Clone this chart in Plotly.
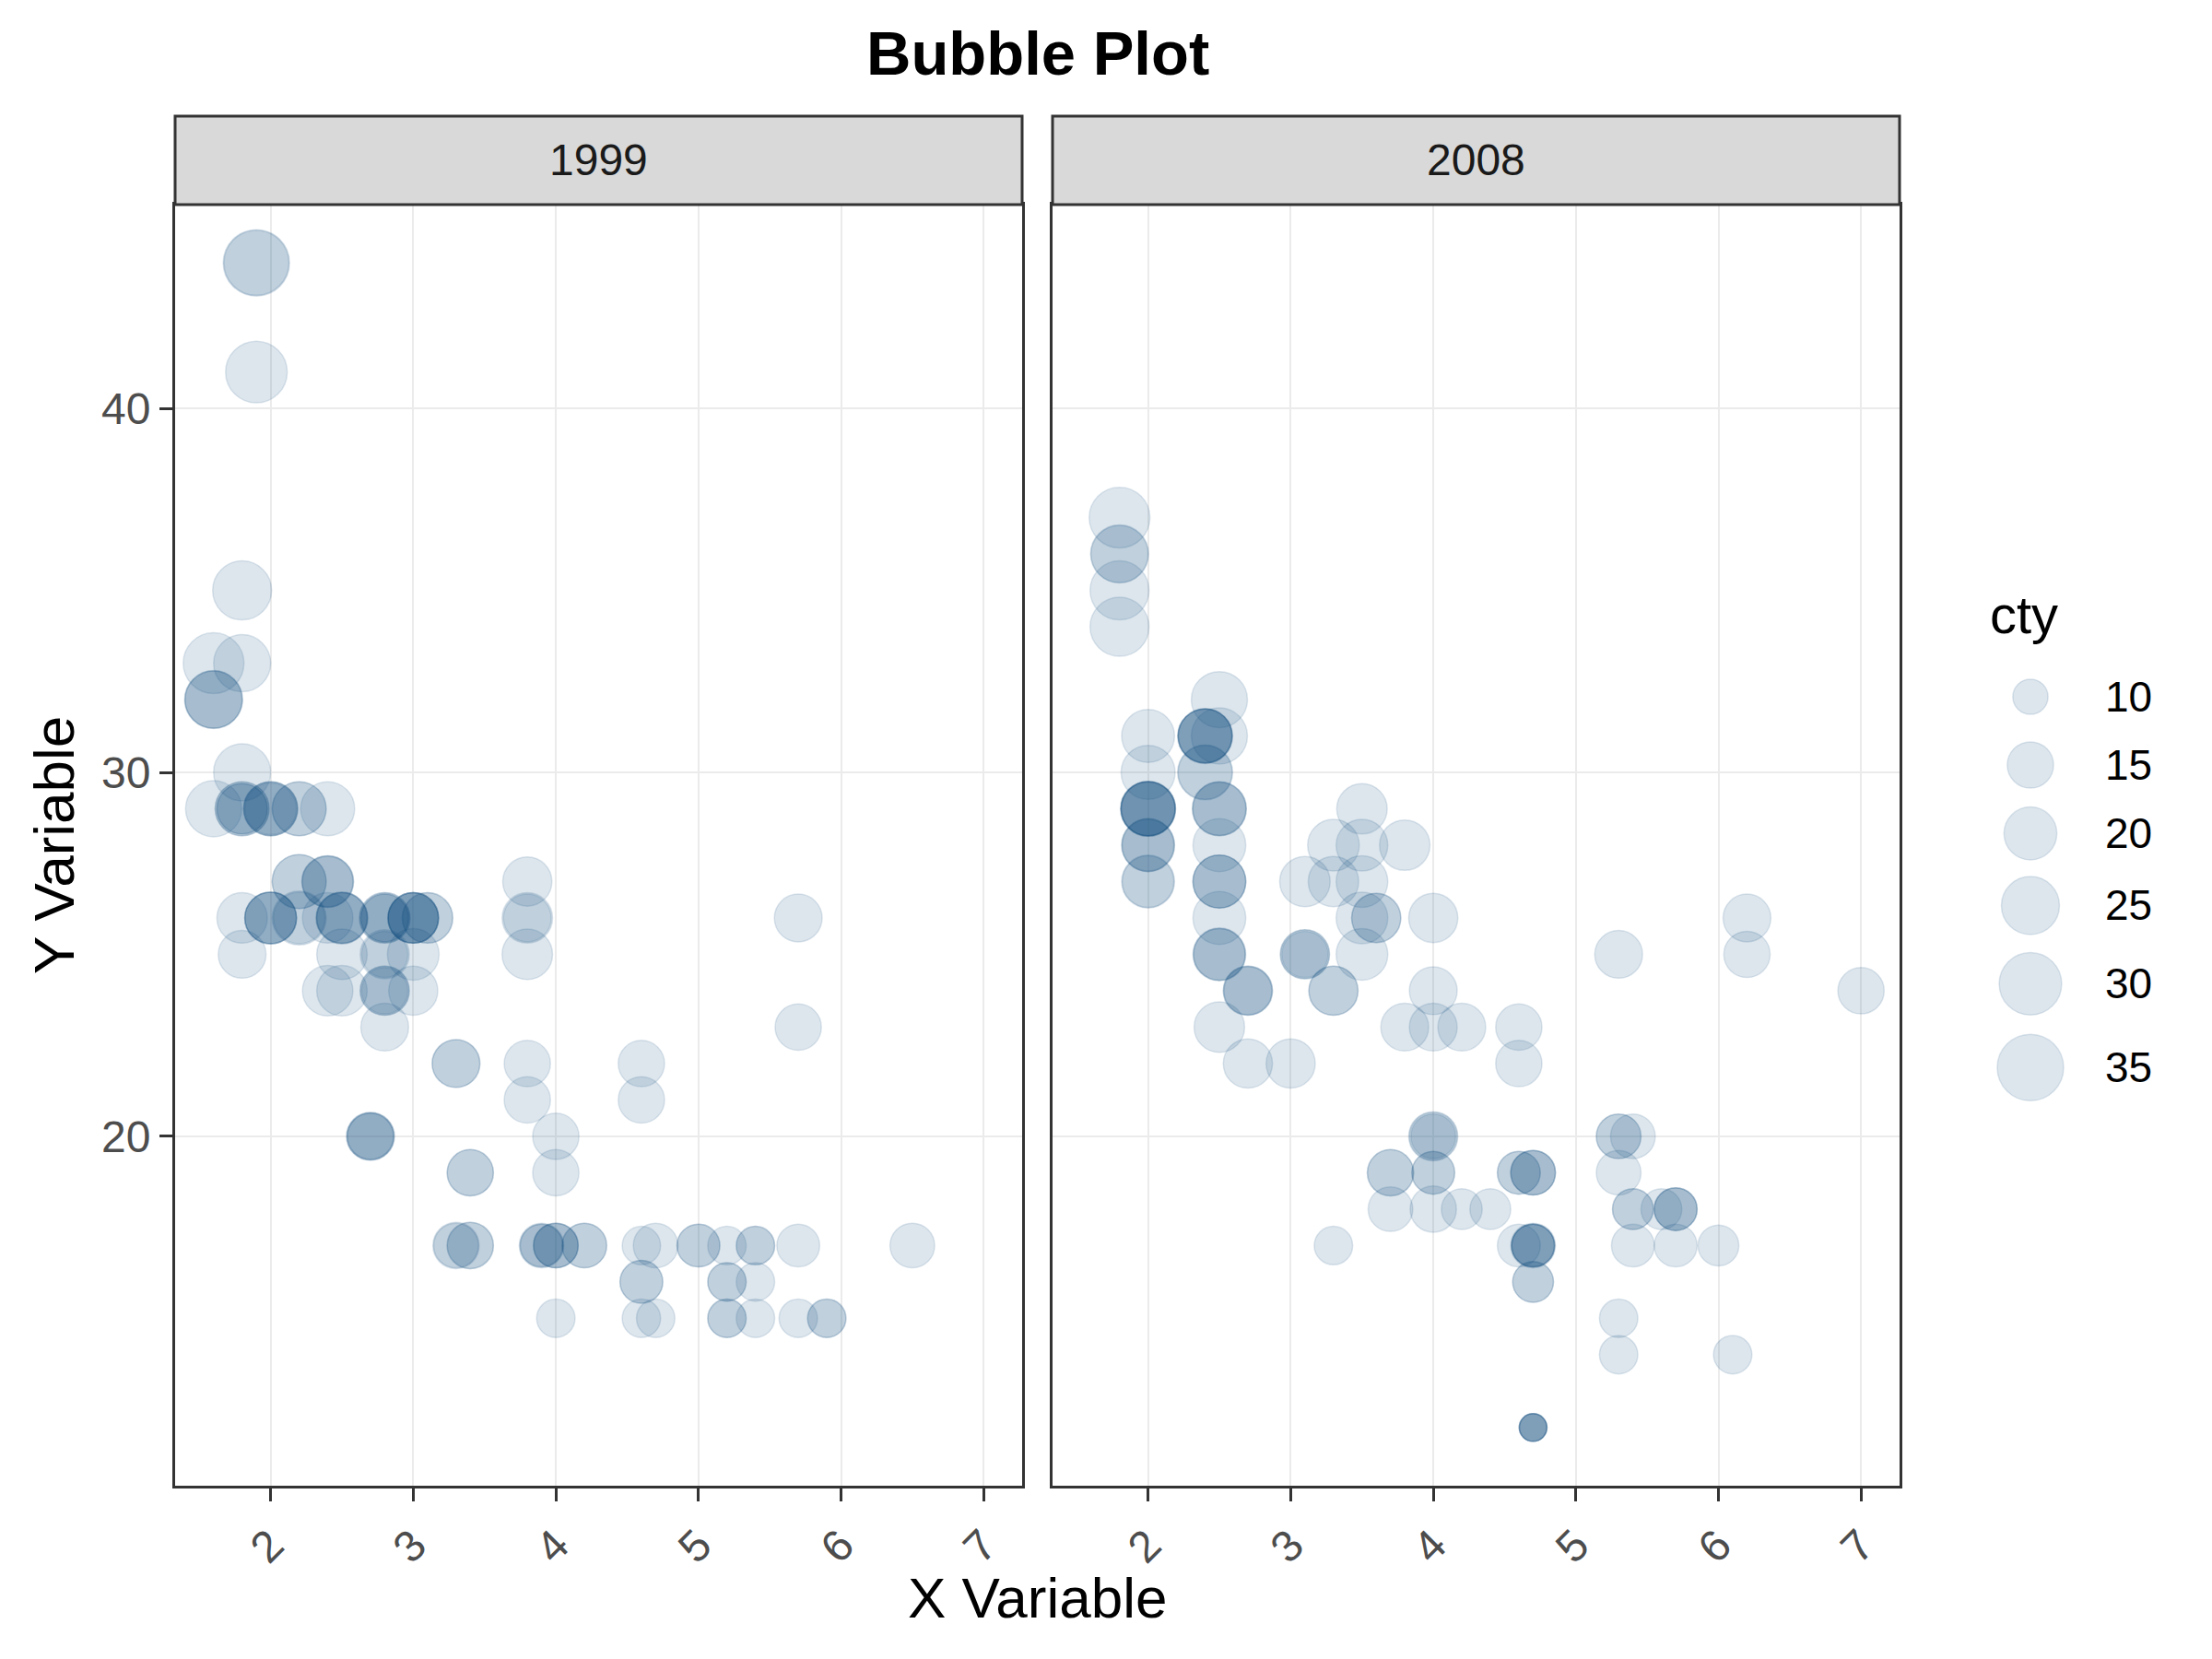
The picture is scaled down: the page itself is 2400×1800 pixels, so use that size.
import math
import plotly.graph_objects as go

# mpg-style data: engine displacement (x), highway mpg (y), city mpg (size)
displ_1999 = [1.8, 1.8, 2.8, 2.8, 1.8, 1.8, 2.8, 2.8, 2.8,
              5.7, 5.7, 5.7, 5.7, 6.5, 2.4, 3.1,
              2.4, 3.0, 3.3, 3.3, 3.8, 3.8,
              3.9, 3.9, 5.2, 5.2, 3.9, 5.2, 5.9, 5.2, 5.2, 5.9,
              4.6, 5.4, 4.0, 4.0, 4.0, 5.0, 4.2, 4.2, 4.6, 4.6, 5.4,
              3.8, 3.8, 4.6, 4.6,
              1.6, 1.6, 1.6, 1.6, 1.6,
              2.4, 2.4, 2.5, 2.5, 2.0, 2.0,
              4.0, 4.7, 4.0, 4.6, 5.4, 5.4, 4.0, 5.0,
              2.4, 2.4, 3.0, 3.0, 3.3, 3.3,
              3.1, 3.8, 3.8,
              2.5, 2.5, 2.2, 2.2, 2.5, 2.5,
              2.7, 2.7, 3.4, 3.4, 2.2, 2.2, 3.0, 3.0, 2.2, 2.2, 3.0, 3.0,
              1.8, 1.8, 1.8, 4.7, 2.7, 2.7, 3.4, 3.4,
              2.0, 2.0, 2.8, 1.9, 2.0, 2.0, 2.8, 2.8, 1.9, 1.9, 2.0, 2.0,
              1.8, 1.8, 2.8, 2.8]
cty_1999 = [18, 21, 16, 18, 18, 16, 15, 17, 15,
            13, 16, 15, 11, 14, 19, 18,
            18, 17, 16, 16, 15, 15,
            13, 14, 11, 11, 13, 11, 11, 11, 11, 11,
            11, 11, 14, 15, 14, 13, 14, 14, 13, 13, 11,
            18, 18, 15, 15,
            28, 24, 25, 23, 24,
            18, 18, 18, 18, 19, 19,
            15, 14, 11, 11, 11, 11, 14, 13,
            21, 19, 18, 19, 14, 15,
            18, 16, 17,
            18, 18, 21, 19, 19, 19,
            15, 16, 15, 15, 21, 21, 18, 18, 21, 21, 18, 18,
            26, 24, 24, 11, 15, 16, 15, 15,
            21, 19, 17, 33, 21, 19, 16, 17, 35, 29, 21, 19,
            21, 18, 16, 18]
hwy_1999 = [29, 29, 26, 26, 26, 25, 25, 25, 24,
            17, 26, 23, 15, 17, 27, 26,
            24, 24, 22, 22, 22, 21,
            17, 17, 17, 15, 17, 16, 15, 15, 16, 15,
            17, 17, 17, 19, 17, 17, 17, 17, 16, 16, 15,
            26, 25, 21, 22,
            33, 32, 32, 29, 32,
            26, 27, 26, 26, 26, 29,
            20, 17, 15, 15, 17, 16, 17, 17,
            29, 27, 26, 25, 17, 17,
            26, 26, 27,
            25, 24, 26, 26, 26, 26,
            20, 20, 19, 17, 29, 27, 26, 26, 27, 29, 26, 26,
            35, 30, 33, 15, 20, 20, 17, 19,
            29, 26, 24, 44, 29, 26, 23, 24, 44, 41, 29, 26,
            29, 29, 26, 26]

displ_2008 = [2.0, 2.0, 3.1, 2.0, 2.0, 3.1, 3.1, 3.1, 4.2,
              5.3, 5.3, 5.3, 6.0, 6.2, 6.2, 7.0, 5.3, 5.3, 2.4, 3.5, 3.6,
              3.3, 3.3, 3.3, 3.8, 4.0,
              3.7, 3.7, 4.7, 4.7, 4.7, 4.7, 4.7, 4.7, 5.7,
              4.7, 4.7, 4.7, 4.7, 4.7, 4.7, 5.7,
              5.4, 4.0, 4.6, 4.6, 5.4, 4.0, 4.0, 4.6, 4.6, 5.4,
              1.8, 1.8, 1.8, 2.0,
              2.4, 2.4, 3.3, 2.0, 2.0, 2.7, 2.7, 2.7,
              3.0, 3.7, 4.7, 4.7, 5.7, 6.1,
              4.2, 4.4, 5.4, 4.0, 4.6,
              2.5, 2.5, 3.5, 3.5, 3.5, 4.0, 5.6,
              3.8, 5.3,
              2.5, 2.5, 2.5, 2.5, 2.5, 2.5, 2.5, 2.5,
              4.0, 4.7, 2.4, 2.4, 3.5, 2.4, 2.4, 3.3, 1.8, 1.8, 5.7, 2.7, 4.0, 4.0,
              2.0, 2.0, 2.0, 2.0, 2.5, 2.5, 2.5, 2.5, 2.0, 2.0, 3.6]
cty_2008 = [20, 21, 18, 20, 19, 17, 15, 17, 16,
            14, 11, 14, 12, 16, 15, 15, 14, 11, 22, 18, 17,
            17, 17, 11, 16, 16,
            15, 14, 14, 14, 9, 13, 9, 13, 13,
            12, 9, 13, 13, 12, 9, 13,
            12, 13, 13, 13, 13, 17, 16, 15, 15, 14,
            26, 25, 24, 21,
            21, 21, 19, 20, 20, 17, 16, 17,
            17, 15, 9, 14, 13, 11,
            12, 12, 12, 13, 13,
            23, 23, 19, 19, 19, 14, 12,
            18, 16,
            20, 19, 20, 18, 20, 20, 19, 20,
            16, 14, 21, 21, 19, 21, 22, 18, 28, 26, 13, 17, 15, 17,
            21, 22, 22, 21, 21, 21, 20, 20, 19, 21, 17]
hwy_2008 = [31, 30, 27, 28, 27, 25, 25, 25, 23,
            20, 15, 20, 17, 26, 25, 24, 19, 14, 30, 29, 26,
            24, 24, 17, 23, 23,
            19, 18, 19, 19, 12, 17, 12, 17, 18,
            16, 12, 17, 17, 16, 12, 17,
            18, 19, 19, 17, 17, 26, 24, 23, 22, 20,
            34, 36, 36, 29,
            30, 31, 28, 28, 27, 24, 24, 24,
            22, 19, 12, 19, 18, 14,
            18, 18, 18, 19, 19,
            31, 32, 27, 26, 25, 20, 18,
            28, 25,
            27, 25, 26, 23, 27, 25, 25, 27,
            20, 17, 31, 31, 28, 31, 31, 27, 37, 35, 18, 22, 18, 20,
            29, 29, 29, 29, 29, 29, 28, 29, 28, 29, 26]

legend_breaks = [10, 15, 20, 25, 30, 35]

# ---- styling / layout ----
W, H = 2400, 1800
ML, MT, MB = 182, 118, 196
PW, PH = W - ML, H - MT - MB
PANEL_BOTTOM = H - MB
FONT = "Liberation Sans, Arial, sans-serif"
RGB = "22,80,128"
FILL = f"rgba({RGB},0.2)"
BORDER = "#333333"

all_cty = cty_1999 + cty_2008
CMIN, CMAX = min(all_cty), max(all_cty)


def bubble(c):
    # area-proportional size scale, 30px..72px diameter
    return 30 + 42 * math.sqrt((c - CMIN) / (CMAX - CMIN))


def xp(px):
    return (px - ML) / PW


def yp(py):
    return (PANEL_BOTTOM - py) / PH


P1 = (182, 1101)
P2 = (1134, 2053)
PANEL_TOP = 214

fig = go.Figure()

for xs, ys, cs, xa, ya in [(displ_1999, hwy_1999, cty_1999, "x", "y"),
                           (displ_2008, hwy_2008, cty_2008, "x2", "y2")]:
    fig.add_trace(go.Scatter(
        x=xs, y=ys, mode="markers", xaxis=xa, yaxis=ya, showlegend=False,
        hoverinfo="skip",
        marker=dict(size=[bubble(c) for c in cs], color=FILL,
                    line=dict(color=FILL, width=1.5))))

# legend drawn as its own small panel
LEG_X, LEG_TOP = 2195, 748
key_h = [max(74, 1.3 * bubble(b)) for b in legend_breaks]
leg_y = []
cur = LEG_TOP
for i, h in enumerate(key_h):
    if i > 0:
        cur += (key_h[i - 1] + h) / 2
    leg_y.append(cur)

fig.add_trace(go.Scatter(
    x=[LEG_X] * len(legend_breaks), y=leg_y, mode="markers",
    xaxis="x3", yaxis="y3", showlegend=False, hoverinfo="skip",
    marker=dict(size=[bubble(b) for b in legend_breaks], color=FILL,
                line=dict(color=FILL, width=1.5))))

axis_common = dict(showgrid=True, gridcolor="#EBEBEB", gridwidth=1.5,
                   zeroline=False, showline=True, linecolor=BORDER,
                   linewidth=3, mirror=True, ticks="outside", ticklen=14,
                   tickwidth=3, tickcolor=BORDER,
                   tickfont=dict(family=FONT, size=48, color="#4D4D4D"))

xcommon = dict(axis_common, range=[1.33, 7.27], tick0=2, dtick=1, tickangle=-45)
ycommon = dict(axis_common, range=[10.4, 45.6], tick0=20, dtick=10)

annotations = []
shapes = []
for (a, b), label in [(P1, "1999"), (P2, "2008")]:
    shapes.append(dict(type="rect", xref="paper", yref="paper",
                       x0=xp(a), x1=xp(b), y0=yp(PANEL_TOP), y1=yp(MT),
                       fillcolor="#D9D9D9", line=dict(color=BORDER, width=3),
                       layer="above"))
    annotations.append(dict(text=label, xref="paper", yref="paper",
                            x=(xp(a) + xp(b)) / 2, y=(yp(PANEL_TOP) + yp(MT)) / 2,
                            showarrow=False, xanchor="center", yanchor="middle",
                            font=dict(family=FONT, size=48, color="#1A1A1A")))

annotations += [
    dict(text="<b>Bubble Plot</b>", xref="paper", yref="paper",
         x=(xp(P1[0]) + xp(P2[1])) / 2, y=yp(50), showarrow=False,
         xanchor="center", yanchor="middle",
         font=dict(family=FONT, size=67, color="black")),
    dict(text="X Variable", xref="paper", yref="paper",
         x=(xp(P1[0]) + xp(P2[1])) / 2, y=yp(1725), showarrow=False,
         xanchor="center", yanchor="middle",
         font=dict(family=FONT, size=62, color="black")),
    dict(text="Y Variable", xref="paper", yref="paper", textangle=-90,
         x=xp(50), y=yp((PANEL_TOP + PANEL_BOTTOM) / 2), showarrow=False,
         xanchor="center", yanchor="middle",
         font=dict(family=FONT, size=62, color="black")),
    dict(text="cty", xref="x3", yref="y3", x=2149, y=658, showarrow=False,
         xanchor="left", yanchor="middle",
         font=dict(family=FONT, size=58, color="black")),
]
for b, yy in zip(legend_breaks, leg_y):
    annotations.append(dict(text=str(b), xref="x3", yref="y3", x=2274, y=yy,
                            showarrow=False, xanchor="left", yanchor="middle",
                            font=dict(family=FONT, size=46, color="black")))

fig.update_layout(
    width=W, height=H,
    margin=dict(l=ML, r=0, t=MT, b=MB),
    paper_bgcolor="white", plot_bgcolor="white",
    xaxis=dict(xcommon, domain=[xp(P1[0]), xp(P1[1])], anchor="y"),
    xaxis2=dict(xcommon, domain=[xp(P2[0]), xp(P2[1])], anchor="y2"),
    yaxis=dict(ycommon, domain=[0, yp(PANEL_TOP)], anchor="x"),
    yaxis2=dict(ycommon, domain=[0, yp(PANEL_TOP)], anchor="x2",
                showticklabels=False, ticks=""),
    xaxis3=dict(domain=[xp(2120), 1], range=[2120, 2400], visible=False,
                anchor="y3"),
    yaxis3=dict(domain=[yp(1222), yp(612)], range=[1222, 612], visible=False,
                anchor="x3"),
    shapes=shapes,
    annotations=annotations,
)

fig.write_html("out.html")
